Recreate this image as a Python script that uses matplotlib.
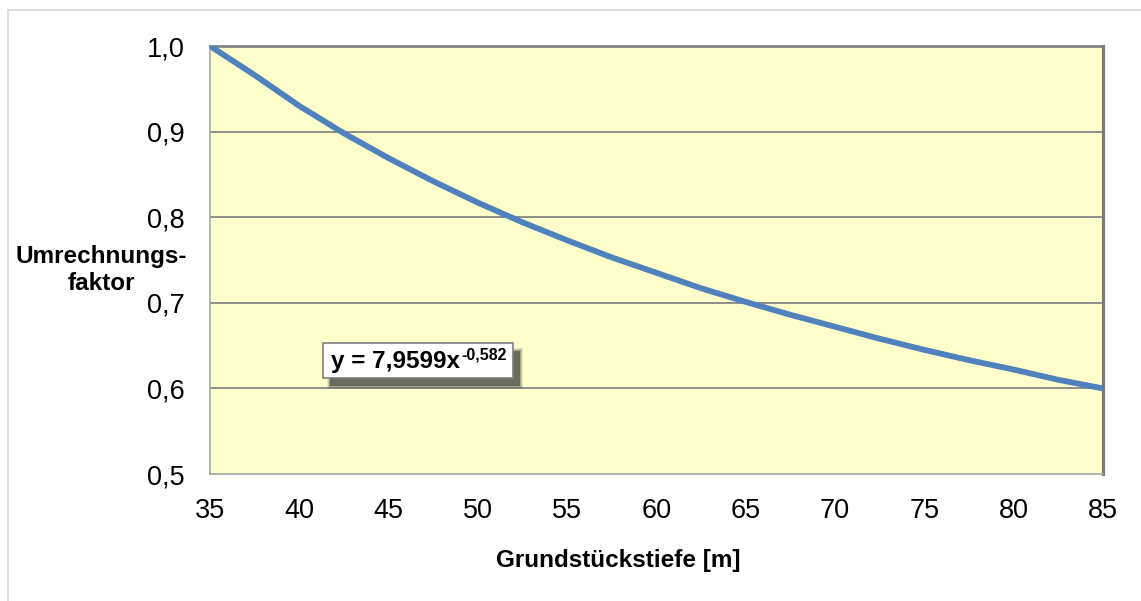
import matplotlib
matplotlib.use('Agg')
import matplotlib.pyplot as plt
from matplotlib.lines import Line2D
from matplotlib.patches import Rectangle

# values (Grundstückstiefe in m -> Umrechnungsfaktor)
tiefe = [35, 37.5, 40, 42.5, 45, 47.5, 50, 52.5, 55, 57.5, 60,
         62.5, 65, 67.5, 70, 72.5, 75, 77.5, 80, 82.5, 85]
faktor = [1.000, 0.966, 0.930, 0.898, 0.869, 0.842, 0.817, 0.794, 0.773, 0.753, 0.735,
          0.717, 0.701, 0.686, 0.672, 0.658, 0.645, 0.633, 0.622, 0.610, 0.600]
x_ticks = [35, 40, 45, 50, 55, 60, 65, 70, 75, 80, 85]
y_ticks = [0.5, 0.6, 0.7, 0.8, 0.9, 1.0]
y_ticklabels = ['0,5', '0,6', '0,7', '0,8', '0,9', '1,0']
gleichung = 'y = 7,9599x'
exponent = '-0,582'

plt.rcParams['font.family'] = ['Liberation Sans', 'DejaVu Sans']

W, H = 1141, 601
fig = plt.figure(figsize=(W / 100, H / 100), dpi=100)


def fx(px):
    return px / W


def fy(py):
    return 1 - py / H


# plot area in pixels: left 210, right 1103, top 46, bottom 474
ax = fig.add_axes([fx(210), fy(474), fx(1103 - 210), (474 - 46) / H])
ax.set_facecolor('#FFFFCC')

ax.plot(tiefe, faktor, color='#4F81BD', lw=4.2, solid_capstyle='butt', zorder=3)

ax.set_xlim(35, 85)
ax.set_ylim(0.5, 1.0)
ax.set_xticks(x_ticks)
ax.set_xticklabels([str(t) for t in x_ticks])
ax.set_yticks(y_ticks)
ax.set_yticklabels(y_ticklabels)
ax.tick_params(axis='both', length=0, labelsize=19.5, colors='black')
ax.tick_params(axis='y', pad=18)
ax.tick_params(axis='x', pad=17)

for yv in y_ticks[1:-1]:
    ax.axhline(yv, color='#868686', lw=1.3, zorder=1)

ax.spines['top'].set_color('#808080')
ax.spines['right'].set_color('#7A7A7A')
ax.spines['top'].set_linewidth(1.9)
ax.spines['right'].set_linewidth(2.3)
ax.spines['left'].set_color('#A6A6A6')
ax.spines['bottom'].set_color('#A6A6A6')
ax.spines['left'].set_linewidth(1.2)
ax.spines['bottom'].set_linewidth(1.2)

# outer chart frame
fig.add_artist(Line2D([fx(8), fx(8)], [fy(10), 0], color='#D9D9D9', lw=1.2))
fig.add_artist(Line2D([fx(8), 1], [fy(10), fy(10)], color='#D9D9D9', lw=1.2))

# axis titles
fig.text(fx(101), fy(263), 'Umrechnungs-', ha='center', va='baseline',
         fontsize=17.5, fontweight='bold')
fig.text(fx(101), fy(290), 'faktor', ha='center', va='baseline',
         fontsize=17.5, fontweight='bold')
fig.text(fx(618), fy(567), 'Grundstückstiefe [m]', ha='center', va='baseline',
         fontsize=17.5, fontweight='bold')

# trendline label with soft shadow
for grow, a in [(3, 0.12), (2, 0.18), (1, 0.25), (0, 0.55)]:
    fig.add_artist(Rectangle((fx(330 - grow), fy(386 + grow)), fx(190 + 2 * grow),
                             (35 + 2 * grow) / H,
                             facecolor='#3C3C3C', edgecolor='none', alpha=a, zorder=4))
fig.add_artist(Rectangle((fx(323), fy(378)), fx(190), (378 - 343) / H,
                         facecolor='white', edgecolor='#7F7F7F', lw=1.2, zorder=5))
t1 = fig.text(fx(331), fy(368), gleichung, ha='left', va='baseline',
              fontsize=17.5, fontweight='bold', zorder=6)
fig.canvas.draw()
bb = t1.get_window_extent()
fig.text(bb.x1 / W + fx(1), fy(360), exponent, ha='left', va='baseline',
         fontsize=11.5, fontweight='bold', zorder=6)

fig.savefig('out.png', dpi=100)
